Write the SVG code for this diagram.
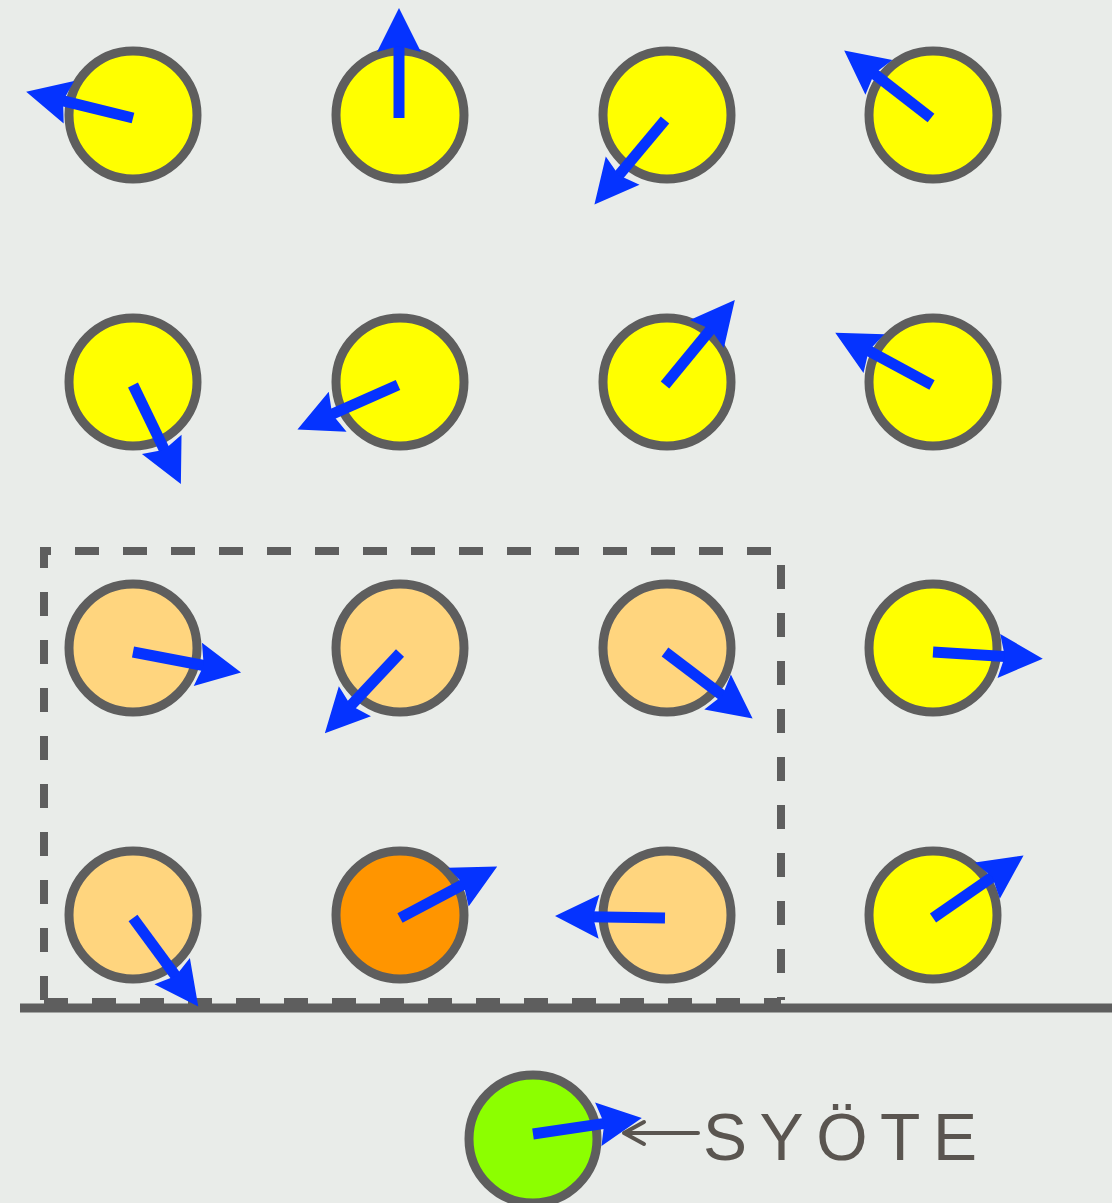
<svg xmlns="http://www.w3.org/2000/svg" xmlns:xlink="http://www.w3.org/1999/xlink" width="1112" height="1203" viewBox="0 0 1112 1203">
  <style>
    .node { stroke: #5e5e5e; stroke-width: 9; }
    .yellow { fill: #ffff00; }
    .light { fill: #ffd57e; }
    .orange { fill: #ff9500; }
    .green { fill: #8cff00; }
    .shaft { stroke: #0533ff; stroke-width: 11; fill: none; }
    .head { fill: #0533ff; }
    .frame { fill: none; stroke: #5e5e5e; stroke-width: 8; stroke-dasharray: 24 24; }
    .base { stroke: #5e5e5e; stroke-width: 9; }
    .label { font-family: "Liberation Sans", "DejaVu Sans", sans-serif; font-size: 66px; fill: #5a5550; }
    .pointer { stroke: #5a5550; stroke-width: 4; fill: none; stroke-linecap: round; stroke-linejoin: round; }
  </style>
  <defs>
    <g id="spin">
      <line class="shaft" x1="0" y1="0" x2="76" y2="0"/>
      <path class="head" d="M110,0 L66,-22 L72,0 L66,22 Z"/>
    </g>
  </defs>
  <rect x="0" y="0" width="1112" height="1203" fill="#e9ece9"/>

  <!-- dashed region and baseline -->
  <path class="frame" d="M44,1000 L44,551 L781,551 L781,1000"/>
  <line class="frame" x1="44" y1="1002" x2="781" y2="1002"/>
  <line class="base" x1="20" y1="1008" x2="1112" y2="1008"/>

  <!-- row 1 -->
  <g id="n1"><circle class="node yellow" cx="133" cy="115" r="64"/><use xlink:href="#spin" transform="translate(133,118) rotate(-166.2)"/></g>
  <g id="n2"><circle class="node yellow" cx="400" cy="115" r="64"/><use xlink:href="#spin" transform="translate(399,118) rotate(-90)"/></g>
  <g id="n3"><circle class="node yellow" cx="667" cy="115" r="64"/><use xlink:href="#spin" transform="translate(665,120) rotate(129.9)"/></g>
  <g id="n4"><circle class="node yellow" cx="933" cy="115" r="64"/><use xlink:href="#spin" transform="translate(931,118) rotate(-142.1)"/></g>

  <!-- row 2 -->
  <g id="n5"><circle class="node yellow" cx="133" cy="382" r="64"/><use xlink:href="#spin" transform="translate(133,385) rotate(64.2)"/></g>
  <g id="n6"><circle class="node yellow" cx="400" cy="382" r="64"/><use xlink:href="#spin" transform="translate(398,385) rotate(156.1)"/></g>
  <g id="n7"><circle class="node yellow" cx="667" cy="382" r="64"/><use xlink:href="#spin" transform="translate(665,385) rotate(-50.6)"/></g>
  <g id="n8"><circle class="node yellow" cx="933" cy="382" r="64"/><use xlink:href="#spin" transform="translate(932,385) rotate(-151.6)"/></g>

  <!-- row 3 -->
  <g id="n9"><circle class="node light" cx="133" cy="648" r="64"/><use xlink:href="#spin" transform="translate(133,652) rotate(10.8)"/></g>
  <g id="n10"><circle class="node light" cx="400" cy="648" r="64"/><use xlink:href="#spin" transform="translate(400,653) rotate(133.1)"/></g>
  <g id="n11"><circle class="node light" cx="667" cy="648" r="64"/><use xlink:href="#spin" transform="translate(665,652) rotate(37.2)"/></g>
  <g id="n12"><circle class="node yellow" cx="933" cy="648" r="64"/><use xlink:href="#spin" transform="translate(933,652) rotate(3.5)"/></g>

  <!-- row 4 -->
  <g id="n13"><circle class="node light" cx="133" cy="915" r="64"/><use xlink:href="#spin" transform="translate(133,918) rotate(53.6)"/></g>
  <g id="n14"><circle class="node orange" cx="400" cy="915" r="64"/><use xlink:href="#spin" transform="translate(400,918) rotate(-27.9)"/></g>
  <g id="n15"><circle class="node light" cx="667" cy="915" r="64"/><use xlink:href="#spin" transform="translate(665,918) rotate(181)"/></g>
  <g id="n16"><circle class="node yellow" cx="933" cy="915" r="64"/><use xlink:href="#spin" transform="translate(933,918) rotate(-34.6)"/></g>

  <!-- input -->
  <g id="input"><circle class="node green" cx="533" cy="1139" r="64"/><use xlink:href="#spin" transform="translate(533,1134) rotate(-8.4)"/></g>

  <g id="connectors">
    <path class="pointer" d="M698,1133 L624,1133 M644,1122 L624,1133 L644,1144"/>
  </g>

  <g id="label">
    <text class="label" x="703" y="1160" textLength="274" lengthAdjust="spacing">SYÖTE</text>
  </g>
</svg>
